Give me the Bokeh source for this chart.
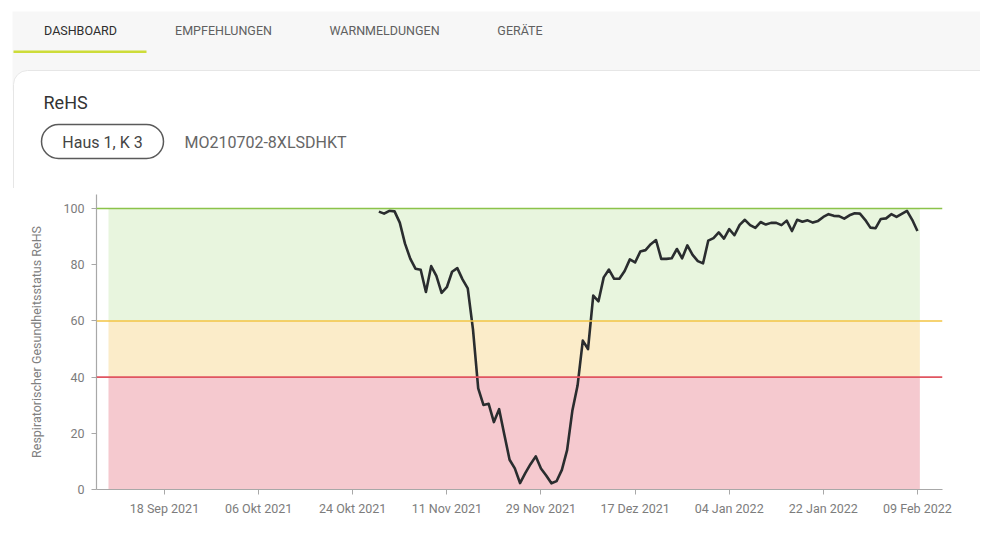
import pandas as pd
from bokeh.plotting import figure
from bokeh.layouts import column
from bokeh.models import Range1d, FixedTicker, Span, ColumnDataSource
from bokeh.core.properties import value
from bokeh.embed import file_html
from bokeh.resources import INLINE

# ---------------- data ----------------
tabs = ["DASHBOARD", "EMPFEHLUNGEN", "WARNMELDUNGEN", "GERÄTE"]
tab_colors = ["#2e2e2e", "#606060", "#606060", "#606060"]
title_text = "ReHS"
location_text = "Haus 1, K 3"
device_text = "MO210702-8XLSDHKT"
y_label = "Respiratorischer Gesundheitsstatus ReHS"

start_date = "2021-10-29"
rehs = [
    98.9, 98.2, 99.2, 99.0, 95.0, 87.5, 82.2, 78.6, 78.2, 70.3,
    79.5, 76.0, 70.0, 72.0, 77.5, 78.8, 74.8, 71.6, 57.0, 36.0,
    30.1, 30.5, 24.0, 28.6, 19.5, 10.6, 7.5, 2.3, 5.8, 9.0,
    11.8, 7.5, 5.0, 2.2, 3.0, 7.0, 14.0, 28.0, 37.0, 53.0,
    50.0, 69.0, 67.0, 75.5, 78.3, 75.0, 75.0, 77.8, 81.9, 80.8,
    84.7, 85.2, 87.3, 88.8, 82.1, 82.1, 82.3, 85.6, 82.3, 86.9,
    83.5, 81.3, 80.5, 88.6, 89.5, 91.5, 89.3, 92.7, 90.5, 94.2,
    96.0, 94.1, 93.1, 95.2, 94.3, 94.9, 94.9, 94.1, 95.7, 92.0,
    96.0, 95.3, 95.8, 95.0, 95.6, 97.0, 98.0, 97.4, 97.3, 96.4,
    97.6, 98.3, 98.2, 96.0, 93.2, 93.0, 96.3, 96.5, 98.0, 97.0,
    98.1, 99.2, 96.0, 92.0,
]

tick_dates = ["2021-09-18", "2021-10-06", "2021-10-24", "2021-11-11", "2021-11-29",
              "2021-12-17", "2022-01-04", "2022-01-22", "2022-02-09"]
tick_labels = ["18 Sep 2021", "06 Okt 2021", "24 Okt 2021", "11 Nov 2021", "29 Nov 2021",
               "17 Dez 2021", "04 Jan 2022", "22 Jan 2022", "09 Feb 2022"]
y_ticks = [0, 20, 40, 60, 80, 100]

zone_lower = [0, 40, 60]
zone_upper = [40, 60, 100]
zone_fill = ["#f5c9cf", "#fbecc9", "#e8f5de"]
thresholds = [100, 60, 40]
threshold_colors = ["#8bc34a", "#f3c443", "#e05560"]
band_start = "2021-09-07 07:00"
band_end = "2022-02-09 11:00"
x_start = "2021-09-05 00:00"
x_end = "2022-02-13 19:00"

FONT = "Roboto"
W = 980
HH = 188

# ---------------- header (tabs, card title, pill) ----------------
hdr = figure(width=W, height=HH, x_range=Range1d(0, W), y_range=Range1d(HH, 0),
             output_backend="svg", toolbar_location=None, min_border=0,
             x_axis_location=None, y_axis_location=None, frame_align=False)
hdr.grid.visible = False
hdr.outline_line_color = None
hdr.background_fill_color = "white"
hdr.border_fill_color = "white"

hdr.quad(left=12, right=W + 5, top=11, bottom=90, fill_color="#f7f7f7", line_color=None)
hdr.quad(left=13, right=W + 30, top=70, bottom=400, fill_color="white",
         line_color="#e6e6e6", line_width=1, border_radius=14)
hdr.quad(left=13, right=146, top=50, bottom=52.5, fill_color="#cddc39", line_color=None)

hdr.text(x=[80, 223, 384, 519.5], y=[30] * 4, text=tabs, text_align="center",
         text_baseline="middle", text_font=value(FONT), text_font_size="12.5px",
         text_color=tab_colors)
hdr.text(x=[43], y=[102], text=[title_text], text_align="left", text_baseline="middle",
         text_font=value(FONT), text_font_size="18px", text_color="#333333")
hdr.quad(left=41, right=163, top=124, bottom=158, fill_color="white",
         line_color="#5a5a5a", line_width=1.5, border_radius=17)
hdr.text(x=[102], y=[141.5], text=[location_text], text_align="center", text_baseline="middle",
         text_font=value(FONT), text_font_size="16px", text_color="#444444")
hdr.text(x=[184], y=[142], text=[device_text], text_align="left", text_baseline="middle",
         text_font=value(FONT), text_font_size="16px", text_color="#666666")

# ---------------- chart ----------------
p = figure(width=W, height=344, x_axis_type="datetime",
           x_range=Range1d(pd.Timestamp(x_start), pd.Timestamp(x_end)),
           y_range=Range1d(0, 105),
           output_backend="svg", toolbar_location=None, frame_align=False,
           min_border_left=96, min_border_right=W - 942, min_border_top=6, min_border_bottom=43)
p.grid.visible = False
p.outline_line_color = None
p.background_fill_color = "white"
p.border_fill_color = "white"

zones = ColumnDataSource(dict(
    left=[pd.Timestamp(band_start)] * 3, right=[pd.Timestamp(band_end)] * 3,
    bottom=zone_lower, top=zone_upper, fill=zone_fill))
p.quad(left="left", right="right", bottom="bottom", top="top", fill_color="fill",
       line_color=None, source=zones)

for t, c in zip(thresholds, threshold_colors):
    p.add_layout(Span(location=t, dimension="width", line_color=c, line_width=1.6))

dates = pd.date_range(start_date, periods=len(rehs), freq="D")
p.line(x=dates, y=rehs, line_color="#2a2d2f", line_width=2.6, line_join="round")

tick_ms = [int(pd.Timestamp(d).value // 10**6) for d in tick_dates]
p.xaxis.ticker = FixedTicker(ticks=tick_ms)
p.xaxis.major_label_overrides = {ms: lab for ms, lab in zip(tick_ms, tick_labels)}
p.yaxis.ticker = FixedTicker(ticks=y_ticks)

for ax in (p.xaxis, p.yaxis):
    ax.axis_line_color = "#a8a8a8"
    ax.axis_line_width = 1.2
    ax.major_tick_line_color = "#a8a8a8"
    ax.major_tick_out = 5
    ax.major_tick_in = 0
    ax.minor_tick_line_color = None
    ax.major_label_text_font = FONT
    ax.major_label_text_font_size = "12.5px"
    ax.major_label_text_color = "#7c7c7c"
p.xaxis.major_label_standoff = 6
p.yaxis.major_label_standoff = 7
p.yaxis.axis_label = y_label
p.yaxis.axis_label_text_font = FONT
p.yaxis.axis_label_text_font_size = "12.5px"
p.yaxis.axis_label_text_font_style = "normal"
p.yaxis.axis_label_text_color = "#808080"
p.yaxis.axis_label_standoff = 16

layout = column(hdr, p, spacing=0)
open("out.html", "w").write(file_html(layout, INLINE))
